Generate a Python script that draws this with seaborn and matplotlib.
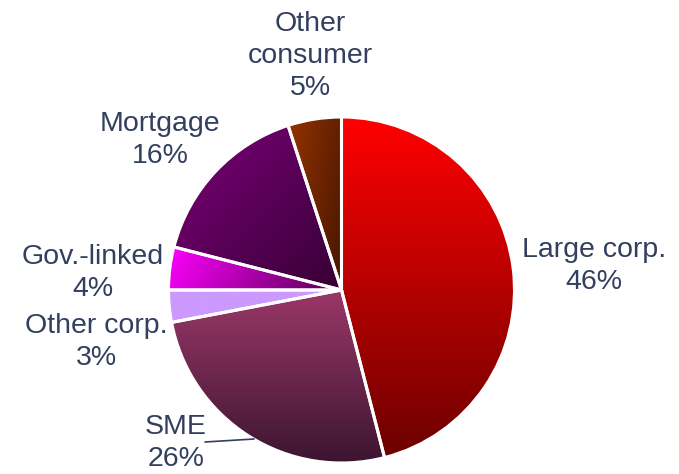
import numpy as np
import matplotlib
matplotlib.use("Agg")
import matplotlib.pyplot as plt
import matplotlib.colors as mcolors
import seaborn as sns

# ---- data ----
categories = ["Large corp.", "SME", "Other corp.", "Gov.-linked", "Mortgage", "Other consumer"]
shares = [46, 26, 3, 4, 16, 5]
label_texts = ["Large corp.\n46%", "SME\n26%", "Other corp.\n3%", "Gov.-linked\n4%",
               "Mortgage\n16%", "Other\nconsumer\n5%"]

# gradient styling: (light colour, dark colour, direction vector (dx, dy) light->dark)
grad_light = ["#ff0000", "#9a3868", "#cc99ff", "#ff00ff", "#7c007a", "#953300"]
grad_dark = ["#6c0000", "#3c1530", "#cc99ff", "#55004f", "#360034", "#481600"]
grad_dir = [(0, -1), (0, -1), (0, -1), (1, -0.6), (1, -1), (1, -0.15)]

label_pos = [(594, 266), (176, 443), (96, 342), (93, 273), (160, 140), (310, 56)]

sns.set_theme(style="white")
plt.rcParams['font.family'] = ['Liberation Sans', 'DejaVu Sans']

W, H = 679, 474
fig = plt.figure(figsize=(W / 100, H / 100), dpi=100)
ax = fig.add_axes([0, 0, 1, 1])

cx, cy, r = 341.5, H - 290, 173
wedges, _ = ax.pie(shares, startangle=90, counterclock=False, center=(cx, cy), radius=r,
                   colors=sns.color_palette(grad_light),
                   wedgeprops=dict(edgecolor="white", linewidth=2.2))
ax.set_xlim(0, W)
ax.set_ylim(0, H)
ax.set_aspect("equal")
ax.axis("off")

for w, c0, c1, d in zip(wedges, grad_light, grad_dark, grad_dir):
    bb = w.get_path().get_extents()
    x0, x1, y0, y1 = bb.x0, bb.x1, bb.y0, bb.y1
    n = 300
    X, Y = np.meshgrid(np.linspace(x0, x1, n), np.linspace(y0, y1, n))
    dx, dy = d
    proj = (X - x0) * dx + (Y - y0) * dy
    t = (proj - proj.min()) / max(proj.max() - proj.min(), 1e-9)
    a = np.array(mcolors.to_rgb(c0))
    b = np.array(mcolors.to_rgb(c1))
    img = a[None, None, :] * (1 - t[..., None]) + b[None, None, :] * t[..., None]
    im = ax.imshow(img, extent=(x0, x1, y0, y1), origin="lower", zorder=1.5,
                   interpolation="bilinear", aspect="auto")
    im.set_clip_path(w)
    w.set_facecolor("none")
    w.set_zorder(3)

ax.set_xlim(0, W)
ax.set_ylim(0, H)

text_color = "#333f5f"
for txt, (px, py) in zip(label_texts, label_pos):
    ax.text(px, H - py, txt, ha="center", va="center", fontsize=20.5, color=text_color,
            linespacing=1.32, zorder=5)

# leader line for SME
ax.plot([205, 254], [H - 442, H - 439], color=text_color, lw=1.2, zorder=5)

fig.savefig("out.png", dpi=100)
